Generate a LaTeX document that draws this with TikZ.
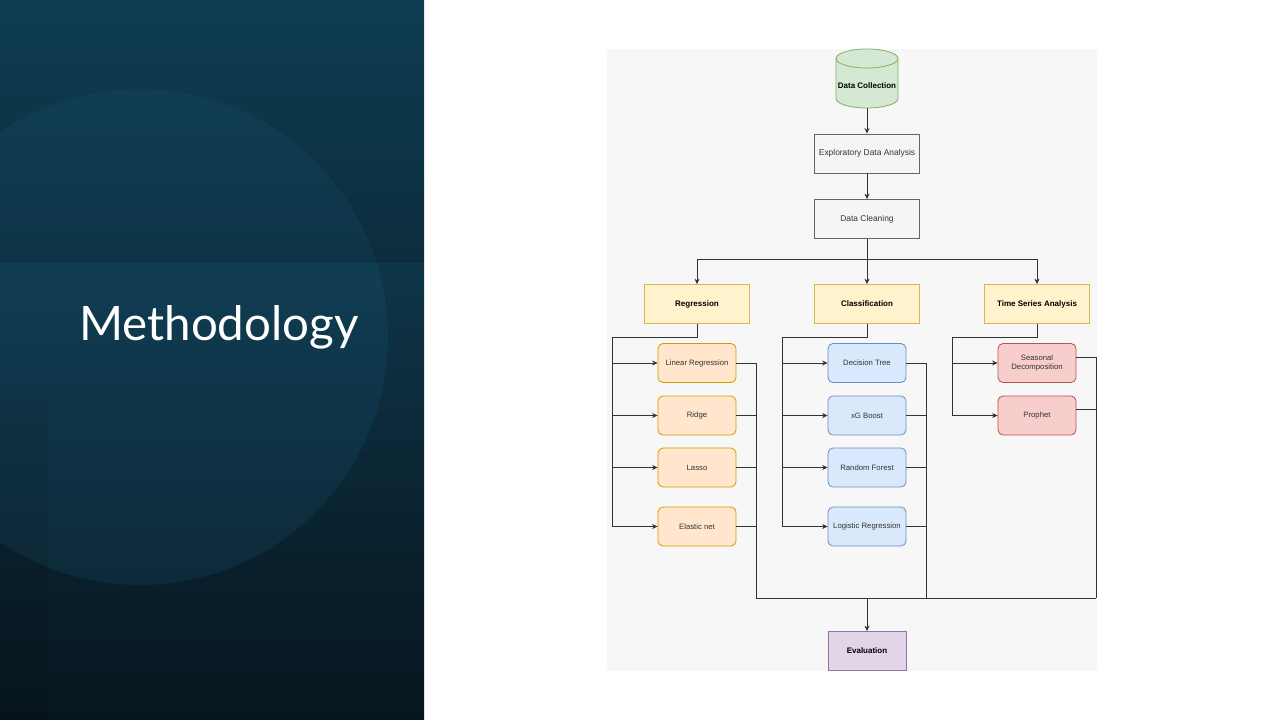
\documentclass[tikz,border=0pt]{standalone}
\usepackage{fontspec}
\setmainfont{Liberation Sans}
\newfontfamily\titlefont{Lato}
\usetikzlibrary{arrows.meta}
\definecolor{linec}{HTML}{333333}
\definecolor{paneltop}{HTML}{124760}
\definecolor{panelbot}{HTML}{07151E}
\definecolor{circlec}{HTML}{2F86B4}
\definecolor{bggray}{HTML}{F7F7F7}
\definecolor{greenF}{HTML}{D5E8D4}\definecolor{greenD}{HTML}{82B366}
\definecolor{grayF}{HTML}{F5F5F5}\definecolor{grayD}{HTML}{666666}
\definecolor{yelF}{HTML}{FFF2CC}\definecolor{yelD}{HTML}{D6B656}
\definecolor{orF}{HTML}{FFE6CC}\definecolor{orD}{HTML}{D79B00}
\definecolor{blF}{HTML}{DAE8FC}\definecolor{blD}{HTML}{6C8EBF}
\definecolor{rdF}{HTML}{F8CECC}\definecolor{rdD}{HTML}{B85450}
\definecolor{puF}{HTML}{E1D5E7}\definecolor{puD}{HTML}{9673A6}
\tikzset{
  box/.style={draw=#1, line width=0.8pt, minimum width=105pt, minimum height=39pt, inner sep=0pt, font=\fontsize{8.4}{10}\selectfont, text=linec},
  leaf/.style={rounded corners=5pt, minimum width=78pt, minimum height=39pt, draw, line width=0.8pt, inner sep=0pt, align=center, font=\fontsize{7.75}{9.5}\selectfont, text=linec},
  conn/.style={draw=linec, line width=0.8pt},
  arr/.style={conn, -{Stealth[length=5.5pt,width=5pt]}},
  rl/.style={leaf, draw=orD, fill=orF},
  cl/.style={leaf, draw=blD, fill=blF},
  tl/.style={leaf, draw=rdD, fill=rdF},
  boldtxt/.style={font=\fontsize{8}{10}\selectfont\bfseries, text=black},
  cat/.style={box=yelD, fill=yelF, boldtxt}
}
\begin{document}
\begin{tikzpicture}[x=1pt,y=-1pt]
\useasboundingbox (0,0) rectangle (1280,720);
\fill[white] (0,0) rectangle (1280,720);
% left panel
\shade[top color=paneltop, bottom color=panelbot] (0,0) rectangle (424,720);
\begin{scope}
\clip (0,0) rectangle (424,720);
\fill[circlec, opacity=0.11] (140,337) circle[radius=248pt];
\fill[black, opacity=0.14] (0,0) rectangle (424,263);
\fill[black, opacity=0.06] (0,400) rectangle (48,720);
\end{scope}
\node[anchor=base west, text=white, inner sep=0pt, font=\titlefont\fontsize{47.5}{52}\selectfont] (title) at (79,340) {Methodology};
% diagram panel
\fill[bggray] (607,49) rectangle (1097,671);
% cylinder
\filldraw[fill=greenF, draw=greenD, line width=0.8pt]
  (836,58.5) -- (836,98.5) arc[start angle=180,end angle=360,x radius=31pt,y radius=9.5pt]
  -- (898,58.5) arc[start angle=0,end angle=180,x radius=31pt,y radius=9.5pt] -- cycle;
\draw[draw=greenD, line width=0.8pt] (836,58.5) arc[start angle=180,end angle=360,x radius=31pt,y radius=9.5pt];
\node[inner sep=0pt, minimum width=62pt, minimum height=44pt, boldtxt] (dc) at (867,86) {Data Collection};
% main boxes
\node[box=grayD, fill=grayF] (eda) at (867,153.5) {Exploratory Data Analysis};
\node[box=grayD, fill=grayF] (dcl) at (867,219) {Data Cleaning};
\node[cat] (reg) at (697,304) {Regression};
\node[cat] (cls) at (867,304) {Classification};
\node[cat] (tsa) at (1037,304) {Time Series Analysis};
% leaves
\node[rl] (lr) at (697,363) {Linear Regression};
\node[rl] (ridge) at (697,415.5) {Ridge};
\node[rl] (lasso) at (697,467.5) {Lasso};
\node[rl] (en) at (697,526.5) {Elastic net};
\node[cl] (dt) at (867,363) {Decision Tree};
\node[cl] (xgb) at (867,415.5) {xG Boost};
\node[cl] (rf) at (867,467.5) {Random Forest};
\node[cl] (lg) at (867,526.5) {Logistic Regression};
\node[tl] (sd) at (1037,363) {Seasonal\\Decomposition};
\node[tl] (pr) at (1037,415.5) {Prophet};
\node[box=puD, fill=puF, minimum width=78pt, boldtxt] (ev) at (867,651) {Evaluation};
% connectors
\draw[arr] (dc.south) -- (eda.north);
\draw[arr] (eda.south) -- (dcl.north);
\coordinate (split) at (867,259);
\draw[arr] (dcl.south) -- (cls.north);
\draw[arr] (split) -| (reg.north);
\draw[arr] (split) -| (tsa.north);
\coordinate (rbl) at (612,337);
\draw[conn] (reg.south) |- (rbl);
\foreach \n in {lr,ridge,lasso,en} \draw[arr] (rbl) |- (\n.west);
\coordinate (cbl) at (782,337);
\draw[conn] (cls.south) |- (cbl);
\foreach \n in {dt,xgb,rf,lg} \draw[arr] (cbl) |- (\n.west);
\coordinate (tbl) at (952,337);
\draw[conn] (tsa.south) |- (tbl);
\foreach \n in {sd,pr} \draw[arr] (tbl) |- (\n.west);
\coordinate (rbr) at (756,598);
\coordinate (cbr) at (926,598);
\coordinate (tbr) at (1096,598);
\foreach \n in {lr,ridge,lasso,en} \draw[conn] (\n.east) -| (rbr);
\foreach \n in {dt,xgb,rf,lg} \draw[conn] (\n.east) -| (cbr);
\foreach \n in {sd,pr} \draw[conn] ([yshift=6pt]\n.east) -| (tbr);
\draw[conn] (rbr) -- (tbr);
\coordinate (evtop) at (867,598);
\draw[arr] (evtop) -- (ev.north);
\end{tikzpicture}
\end{document}
